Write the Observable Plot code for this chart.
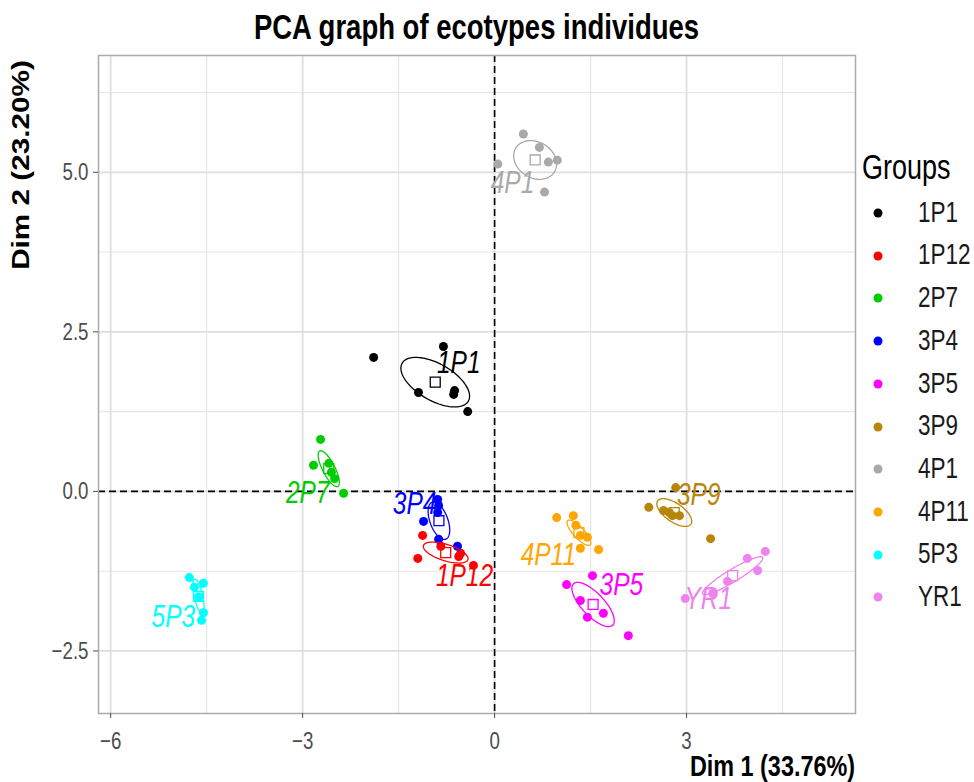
<!DOCTYPE html>
<html><head><meta charset="utf-8">
<script src="https://cdn.jsdelivr.net/npm/d3@7"></script>
<script src="https://cdn.jsdelivr.net/npm/@observablehq/plot@0.6"></script>
<style>
body{margin:0;background:#fff;}
#wrap{position:relative;width:974px;height:782px;overflow:hidden;background:#fff;
  font-family:"Liberation Sans",Arial,sans-serif;color:#000;}
#wrap svg{position:absolute;left:0;top:0;}
.abs{position:absolute;white-space:nowrap;line-height:1;transform-origin:center center;}
</style></head><body><div id="wrap"></div>
<script>
// ---- data ----
const groups = ["1P1","1P12","2P7","3P4","3P5","3P9","4P1","4P11","5P3","YR1"];
const groupColors = ["#000000","#FF0000","#00CD00","#0000FF","#FF00FF","#B8860B","#A9A9A9","#FFA500","#00FFFF","#EE82EE"];

const indGroup = [
  "1P1","1P1","1P1","1P1","1P1","1P1",
  "1P12","1P12","1P12","1P12","1P12","1P12",
  "2P7","2P7","2P7","2P7","2P7","2P7",
  "3P4","3P4","3P4","3P4","3P4","3P4",
  "3P5","3P5","3P5","3P5","3P5","3P5",
  "3P9","3P9","3P9","3P9","3P9","3P9","3P9",
  "4P1","4P1","4P1","4P1","4P1","4P1",
  "4P11","4P11","4P11","4P11","4P11","4P11","4P11",
  "5P3","5P3","5P3","5P3","5P3","5P3",
  "YR1","YR1","YR1","YR1","YR1","YR1"
];
const indDim1 = [
  -1.89,-0.80,-1.19,-0.625,-0.64,-0.42,
  -1.125,-1.20,-0.84,-0.53,-0.33,-0.56,
  -2.72,-2.83,-2.59,-2.55,-2.50,-2.36,
  -0.89,-0.875,-0.89,-1.11,-0.875,-0.58,
  1.53,1.125,1.34,1.45,1.70,2.09,
  2.83,2.41,2.64,2.73,2.78,2.89,3.375,
  0.45,0.70,0.84,0.98,0.05,0.78,
  0.97,1.23,1.27,1.34,1.45,1.34,1.625,
  -4.77,-4.55,-4.69,-4.625,-4.55,-4.58,
  4.23,3.95,4.11,3.64,2.98,3.41
];
const indDim2 = [
  2.10,2.27,1.55,1.58,1.52,1.25,
  -0.69,-1.05,-0.86,-0.97,-1.16,-1.02,
  0.815,0.41,0.44,0.30,0.20,-0.03,
  -0.125,-0.22,-0.33,-0.47,-0.75,-0.86,
  -1.32,-1.46,-1.71,-1.97,-1.91,-2.26,
  0.06,-0.25,-0.30,-0.33,-0.38,-0.38,-0.74,
  5.60,5.39,5.16,5.19,5.13,4.69,
  -0.41,-0.38,-0.53,-0.69,-0.72,-0.89,-0.91,
  -1.35,-1.44,-1.50,-1.65,-1.90,-2.02,
  -0.94,-1.05,-1.24,-1.41,-1.68,-1.60
];
// group label anchors (as repelled in the picture), data units
const labelDim1 = [-0.56,-0.47,-2.92,-1.25,1.98,3.19,0.28,0.84,-5.02,3.34];
const labelDim2 = [2.01,-1.32,-0.02,-0.19,-1.46,-0.06,4.83,-1.00,-1.97,-1.68];

const xTicks = [-6,-3,0,3];
const yTicks = [-2.5,0,2.5,5];
const xMinor = [-4.5,-1.5,1.5,4.5];
const yMinor = [-1.25,1.25,3.75,6.25];
const xDomain = [-6.19,5.64];
const yDomain = [-3.48,6.83];

const titleText = "PCA graph of ecotypes individues";
const xTitle = "Dim 1 (33.76%)";
const yTitle = "Dim 2 (23.20%)";
const legendTitle = "Groups";

// the reference picture is stretched vertically; text is drawn taller accordingly
const stretch = 1.27;

// ---- derived tables ----
const inds = indGroup.map((g,i)=>({group:g, x:indDim1[i], y:indDim2[i]}));
const labels = groups.map((g,i)=>({group:g, x:labelDim1[i], y:labelDim2[i]}));

// group means and 95% confidence ellipses around the mean
const chi2 = 5.991; // qchisq(0.95, 2)
const means = [], ellipse = [];
for (const g of groups) {
  const pts = inds.filter(d=>d.group===g);
  const n = pts.length;
  const mx = d3.mean(pts,d=>d.x), my = d3.mean(pts,d=>d.y);
  let sxx=0, syy=0, sxy=0;
  for (const p of pts){ sxx+=(p.x-mx)**2; syy+=(p.y-my)**2; sxy+=(p.x-mx)*(p.y-my); }
  sxx/=(n-1); syy/=(n-1); sxy/=(n-1);
  sxx/=n; syy/=n; sxy/=n;
  const tr = sxx+syy, det = sxx*syy-sxy*sxy;
  const disc = Math.sqrt(Math.max(0,tr*tr/4-det));
  const l1 = tr/2+disc, l2 = Math.max(0,tr/2-disc);
  const phi = 0.5*Math.atan2(2*sxy, sxx-syy);
  const r = Math.sqrt(chi2);
  means.push({group:g, x:mx, y:my});
  for (let k=0;k<=100;k++){
    const t = 2*Math.PI*k/100;
    const a = r*Math.sqrt(l1)*Math.cos(t), b = r*Math.sqrt(l2)*Math.sin(t);
    ellipse.push({group:g, x: mx + a*Math.cos(phi) - b*Math.sin(phi), y: my + a*Math.sin(phi) + b*Math.cos(phi)});
  }
}

const plot = Plot.plot({
  width: 974, height: 782,
  marginLeft: 98, marginRight: 119, marginTop: 55, marginBottom: 69,
  style: {fontFamily: '"Liberation Sans",Arial,sans-serif', fontSize: "18.7px", background: "transparent"},
  x: {domain: xDomain, label: null},
  y: {domain: yDomain, label: null},
  color: {domain: groups, range: groupColors},
  marks: [
    Plot.ruleX(xMinor, {stroke: "#E6E6E6", strokeWidth: 1.1}),
    Plot.ruleY(yMinor, {stroke: "#E6E6E6", strokeWidth: 1.1}),
    Plot.ruleX(xTicks, {stroke: "#DEDEDE", strokeWidth: 1.8}),
    Plot.ruleY(yTicks, {stroke: "#DEDEDE", strokeWidth: 1.8}),
    Plot.ruleX([0], {stroke: "#000", strokeWidth: 1.6, strokeDasharray: "7,4"}),
    Plot.ruleY([0], {stroke: "#000", strokeWidth: 1.6, strokeDasharray: "7,4"}),
    Plot.frame({stroke: "#ABABAB", strokeWidth: 1.5}),
    Plot.dot(inds, {x: "x", y: "y", fill: "group", r: 4.5}),
    Plot.line(ellipse, {x: "x", y: "y", z: "group", stroke: "group", strokeWidth: 1.3, curve: "linear"}),
    Plot.dot(means, {x: "x", y: "y", stroke: "group", symbol: "square", r: 5.6, fill: "none", strokeWidth: 1.3}),
    Plot.text(labels, {x: "x", y: "y", text: "group", fill: "group", fontSize: 24.5, fontStyle: "italic", textAnchor: "middle", lineAnchor: "middle"}),
    Plot.axisX(xTicks, {tickSize: 5, tickPadding: 15, color: "#4D4D4D", label: null}),
    Plot.axisY(yTicks, {tickSize: 5, tickPadding: 5, color: "#4D4D4D", tickFormat: d3.format(".1f"), label: null})
  ]
});

const wrap = document.getElementById("wrap");
wrap.appendChild(plot);

// stretch every SVG text vertically about its own centre
plot.querySelectorAll("text").forEach(t => {
  const bb = t.getBBox();
  const cx = bb.x + bb.width/2, cy = bb.y + bb.height/2;
  const old = t.getAttribute("transform") || "";
  t.setAttribute("transform", `${old} translate(${cx},${cy}) scale(1,${stretch}) translate(${-cx},${-cy})`.trim());
});

function addText(txt, css, extra) {
  const d = document.createElement("div");
  d.className = "abs";
  d.textContent = txt;
  Object.assign(d.style, css);
  d.style.transform = extra || `scaleY(${stretch})`;
  wrap.appendChild(d);
  return d;
}
// title (centre at y = 28)
addText(titleText, {left: "98px", width: "757px", textAlign: "center", top: (28-13.75)+"px", fontSize: "27.5px", fontWeight: "bold"});
// x axis title (right aligned at panel edge)
addText(xTitle, {right: "119px", top: (767-11.7)+"px", fontSize: "23.4px", fontWeight: "bold"});
// y axis title (rotated, top aligned with panel)
addText(yTitle, {left: "22px", top: "165px", fontSize: "23.4px", fontWeight: "bold"},
  `translate(-50%,-50%) rotate(-90deg) scaleX(${stretch})`);
// legend
addText(legendTitle, {left: "862px", top: (168-13.5)+"px", fontSize: "27px"});
const legendTop = 213, legendStep = 42.7;
groups.forEach((g,i)=>{
  const cy = legendTop + legendStep*i;
  const s = document.createElementNS("http://www.w3.org/2000/svg","svg");
  s.setAttribute("width", 12); s.setAttribute("height", 12);
  s.style.position = "absolute"; s.style.left = (878-6)+"px"; s.style.top = (cy-6)+"px";
  const c = document.createElementNS("http://www.w3.org/2000/svg","circle");
  c.setAttribute("cx", 6); c.setAttribute("cy", 6); c.setAttribute("r", 4.5);
  c.setAttribute("fill", groupColors[i]);
  s.appendChild(c); wrap.appendChild(s);
  addText(g, {left: "918px", top: (cy-11.25)+"px", fontSize: "22.5px", color: "#1A1A1A"});
});
</script></body></html>
